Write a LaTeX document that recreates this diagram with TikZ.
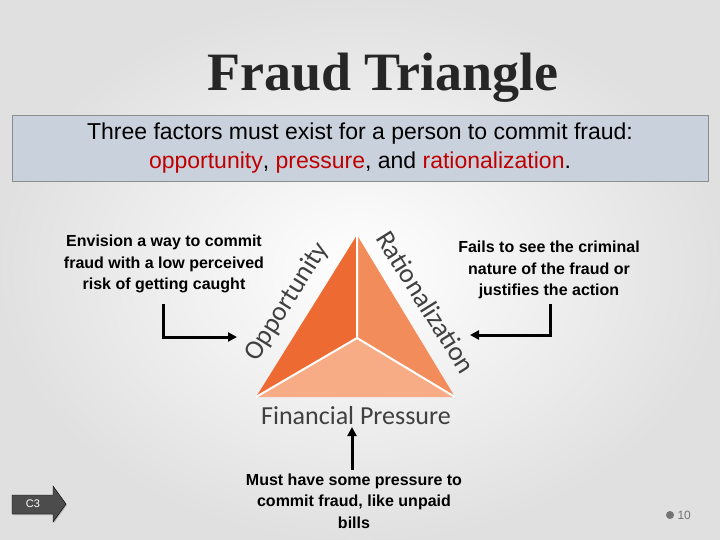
\documentclass[tikz,border=0pt]{standalone}
\usepackage{fontspec}
\setmainfont{Liberation Sans}
\newfontfamily\titlefont{Liberation Serif}
\newfontfamily\labelfont{Carlito}
\usetikzlibrary{positioning,shadows,arrows.meta}
\definecolor{redtxt}{HTML}{C00000}
\definecolor{boxfill}{HTML}{C9D1DD}
\definecolor{oppcol}{HTML}{EE6A33}
\definecolor{ratcol}{HTML}{F28C5A}
\definecolor{precol}{HTML}{F7AC85}
\tikzset{
  note/.style={font=\bfseries\fontsize{16}{21.5}\selectfont, align=center},
  pointer/.style={-{Triangle[length=9pt,width=9pt]}, line width=3pt},
  sidelabel/.style={font=\labelfont\fontsize{27}{27}\selectfont, text=black!75},
  part/.style={draw=white, line width=2pt, line join=round}
}
\begin{document}
\begin{tikzpicture}[x=1pt,y=-1pt]
  % background
  \useasboundingbox (0,0) rectangle (720,540);
  \shade[inner color=white, outer color=black!12] (0,0) rectangle (720,540);

  % title
  \node[font=\titlefont\bfseries\fontsize{54}{60}\selectfont, text=black!85] (title) at (383,78) {Fraud Triangle};
  \node[draw=black!45, fill=boxfill, minimum width=696pt, minimum height=66pt,
        font=\fontsize{23}{29}\selectfont, align=center, inner sep=0pt] (intro) at (360,148)
    {Three factors must exist for a person to commit fraud:\\
     \textcolor{redtxt}{opportunity}, \textcolor{redtxt}{pressure}, and \textcolor{redtxt}{rationalization}.};

  % triangle
  \coordinate (apex) at (357,235);
  \coordinate (left) at (256,397);
  \coordinate (right) at (455,397);
  \coordinate (mid) at (357,338);
  \fill[oppcol] (apex) -- (mid) -- (left) -- cycle;
  \fill[ratcol] (apex) -- (right) -- (mid) -- cycle;
  \fill[precol] (left) -- (mid) -- (right) -- cycle;
  \draw[part] (apex) -- (mid) (left) -- (mid) -- (right);

  \node[sidelabel, rotate=58] (opp) at (287,302) {Opportunity};
  \node[sidelabel, rotate=-58] (rat) at (426,302) {Rationalization};
  \node[sidelabel, font=\labelfont\fontsize{26}{26}\selectfont] (pres) at (356,416) {Financial Pressure};

  % notes
  \node[note] (n1) at (164,264) {Envision a way to commit\\fraud with a low perceived\\risk of getting caught};
  \node[note] (n2) at (549,270) {Fails to see the criminal\\nature of the fraud or\\justifies the action};
  \node[note] (n3) at (354,501) {Must have some pressure to\\commit fraud, like unpaid\\bills};

  % arrows
  \coordinate (a1) at (163,304);
  \coordinate (b1) at (237,337);
  \coordinate (a2) at (550,304);
  \coordinate (b2) at (470,335);
  \coordinate (a3) at (352,470);
  \coordinate (b3) at (352,427);
  \draw[pointer] (a1) |- (b1);
  \draw[pointer] (a2) |- (b2);
  \draw[pointer] (a3) -- (b3);

  % slide marker and page number
  \draw[fill=black!70, drop shadow={shadow xshift=1pt,shadow yshift=-1pt}]
    (12,495) -- (53,495) -- (53,486) -- (66,504) -- (53,522) -- (53,514) -- (12,514) -- cycle;
  \node[text=white, font=\fontsize{11}{11}\selectfont] (c3) at (33,504) {C3};
  \fill[black!55] (670,515) circle (4pt);
  \node[text=black!55, font=\fontsize{12}{12}\selectfont, anchor=west] (page) at (674,515) {10};
\end{tikzpicture}
\end{document}
